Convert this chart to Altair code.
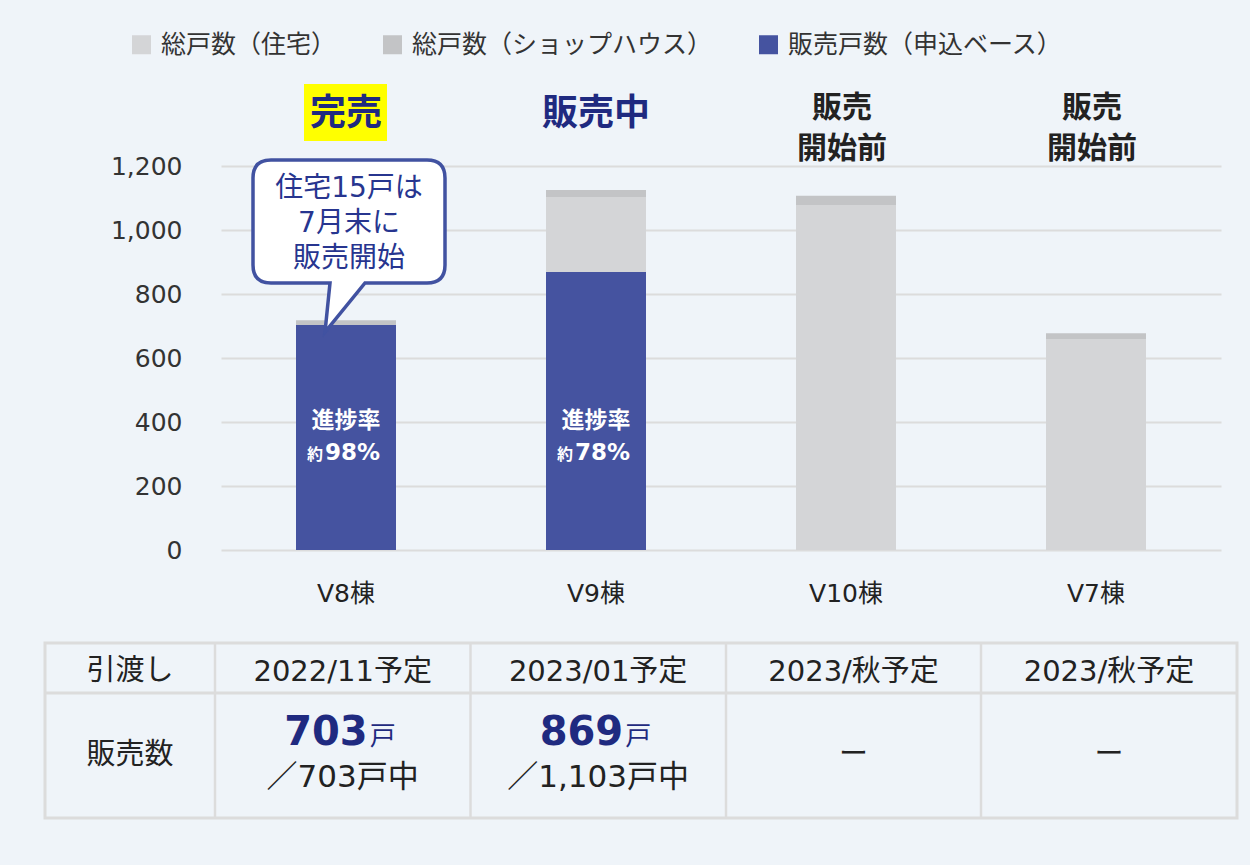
import altair as alt
import pandas as pd

# ---------------- data ----------------
BLDG = ["V8棟", "V9棟", "V10棟", "V7棟"]
HOUSING = [703, 1103, 1078, 659]          # 総戸数（住宅）
SHOP = [15, 22, 29, 18]                   # 総戸数（ショップハウス）
SOLD = [703, 869, None, None]             # 販売戸数（申込ベース）
SOLD_OF = [703, 1103, None, None]         # ／xxx戸中
PROGRESS = [98, 78, None, None]           # 進捗率 約xx%
STATUS = ["完売", "販売中", "販売\n開始前", "販売\n開始前"]
STATUS_KIND = ["hl", "hl", "pre", "pre"]
HANDOVER = ["2022/11予定", "2023/01予定", "2023/秋予定", "2023/秋予定"]
SERIES = ["総戸数（住宅）", "総戸数（ショップハウス）", "販売戸数（申込ベース）"]
COLORS = ["#d4d5d7", "#c3c4c6", "#4553a0"]
ROW_HEADS = ["引渡し", "販売数"]
NOTE = "住宅15戸は\n7月末に\n販売開始"

# ---------------- styling ----------------
LAT = "DejaVu Sans, Noto Sans CJK JP"
JP = "Noto Sans CJK JP"
NAVY = "#1f2a80"
DARK = "#222222"
GRID = "#dcdcdc"

stack_rows = []
for b, h, s in zip(BLDG, HOUSING, SHOP):
    stack_rows.append({"bldg": b, "series": SERIES[0], "value": h, "ord": 0})
    stack_rows.append({"bldg": b, "series": SERIES[1], "value": s, "ord": 1})
stack_df = pd.DataFrame(stack_rows)

sold_df = pd.DataFrame(
    [{"bldg": b, "series": SERIES[2], "value": v} for b, v in zip(BLDG, SOLD) if v is not None]
)

info = pd.DataFrame({
    "bldg": BLDG,
    "status": STATUS,
    "kind": STATUS_KIND,
    "handover": HANDOVER,
    "pct": [f"{p}%" if p is not None else "" for p in PROGRESS],
    "has": [v is not None for v in SOLD],
    "sold": [f"{v}" if v is not None else "" for v in SOLD],
    "of": [f"／{v:,}戸中" if v is not None else "" for v in SOLD_OF],
})

color_scale = alt.Scale(domain=SERIES, range=COLORS)
legend = alt.Legend(
    orient="none", legendX=-92, legendY=-134, direction="horizontal", title=None,
    symbolType="square", symbolSize=361, symbolStrokeWidth=0, symbolOpacity=1,
    labelFont=JP, labelFontSize=25, labelColor="#333333", labelOffset=7,
    columnPadding=43, labelLimit=600, padding=0,
)

x_band = alt.X(
    "bldg:N", sort=BLDG,
    scale=alt.Scale(domain=BLDG, paddingInner=0.6, paddingOuter=0.3),
    axis=alt.Axis(title=None, domain=False, ticks=False, tickSize=0, grid=False,
                  labelPadding=31, labelFont=LAT, labelFontSize=25,
                  labelColor=DARK, labelAngle=0),
)
y_axis = alt.Axis(title=None, domain=False, ticks=False, tickSize=0,
                  values=[0, 200, 400, 600, 800, 1000, 1200], format=",d",
                  labelPadding=39, labelFont=LAT, labelFontSize=25,
                  labelColor="#333333", gridColor=GRID, gridWidth=2)
y_scale = alt.Scale(domain=[0, 1200], nice=False)

stacked = alt.Chart(stack_df).mark_bar().encode(
    x=x_band,
    y=alt.Y("value:Q", stack="zero", scale=y_scale, axis=y_axis),
    color=alt.Color("series:N", scale=color_scale, legend=legend),
    order=alt.Order("ord:Q", sort="ascending"),
)
sold = alt.Chart(sold_df).mark_bar().encode(
    x=x_band,
    y=alt.Y("value:Q", stack=None, scale=y_scale, axis=y_axis),
    color=alt.Color("series:N", scale=color_scale, legend=legend),
)

# status labels above bars
yellow = alt.Chart(info).transform_filter(alt.datum.status == "完売").mark_rect(
    color="#ffff00").encode(
    x=alt.value(83), x2=alt.value(166), y=alt.value(-82), y2=alt.value(-25))
status_hl = alt.Chart(info).transform_filter(alt.datum.kind == "hl").mark_text(
    font=JP, fontSize=36, fontWeight="bold", color=NAVY, baseline="middle"
).encode(x=x_band, y=alt.value(-52), text="status:N")
status_pre = alt.Chart(info).transform_filter(alt.datum.kind == "pre").mark_text(
    font=JP, fontSize=30, fontWeight="bold", color=DARK, baseline="alphabetic",
    lineBreak="\n", lineHeight=41, dx=-4
).encode(x=x_band, y=alt.value(-49), text="status:N")

# in-bar progress text
prog_base = alt.Chart(info).transform_filter(alt.datum.has)
prog_t1 = prog_base.mark_text(font=JP, fontSize=23, fontWeight="bold", color="white",
                              baseline="middle", text="進捗率").encode(
    x=x_band, y=alt.value(255))
prog_t2 = prog_base.mark_text(font=JP, fontSize=16, fontWeight="bold", color="white",
                              baseline="middle", align="right", dx=-23, text="約").encode(
    x=x_band, y=alt.value(289))
prog_t3 = prog_base.mark_text(font=LAT, fontSize=23, fontWeight="bold", color="white",
                              baseline="middle", align="left", dx=-21).encode(
    x=x_band, y=alt.value(287), text="pct:N")

# callout bubble
BUBBLE_PATH = ("M -0.78 -0.86 L 0.78 -0.86 Q 0.96 -0.86 0.96 -0.68 L 0.96 0.19 "
               "Q 0.96 0.37 0.78 0.37 L 0.16 0.37 L -0.24 0.86 L -0.19 0.37 "
               "L -0.78 0.37 Q -0.96 0.37 -0.96 0.19 L -0.96 -0.68 "
               "Q -0.96 -0.86 -0.78 -0.86 Z")
note_df = pd.DataFrame({"note": [NOTE]})
bubble = alt.Chart(note_df).mark_point(
    shape=BUBBLE_PATH, size=40000, filled=True, fill="white", fillOpacity=1,
    stroke="#4152a1", strokeWidth=3.5, opacity=1
).encode(x=alt.value(128), y=alt.value(80))
bubble_text = alt.Chart(note_df).mark_text(
    font=LAT, fontSize=28, color="#27358f", baseline="alphabetic",
    lineBreak="\n", lineHeight=35
).encode(x=alt.value(128), y=alt.value(31), text="note:N")

inner = alt.layer(stacked, sold, yellow, status_hl, status_pre,
                  prog_t1, prog_t2, prog_t3, bubble, bubble_text)

# ---------------- table ----------------
x_pt = alt.X("bldg:N", sort=BLDG,
             scale=alt.Scale(type="point", domain=BLDG, range=[121.7, 888.0], padding=0),
             axis=None)
T_LEFT, T_RIGHT, T_TOP, T_MID, T_BOT = -176, 1016, 477, 527, 652
V_LINES = [-6, 249.5, 505, 760]
line_src = pd.DataFrame({"k": [0]})
table_border = alt.Chart(line_src).mark_rect(
    fillOpacity=0, stroke=GRID, strokeWidth=3).encode(
    x=alt.value(T_LEFT), x2=alt.value(T_RIGHT), y=alt.value(T_TOP), y2=alt.value(T_BOT))
rules = [alt.Chart(line_src).mark_rule(color=GRID, strokeWidth=3).encode(
    x=alt.value(T_LEFT), x2=alt.value(T_RIGHT), y=alt.value(T_MID))]
for vx in V_LINES:
    rules.append(alt.Chart(line_src).mark_rule(color=GRID, strokeWidth=2.5).encode(
        x=alt.value(vx), y=alt.value(T_TOP), y2=alt.value(T_BOT)))

heads_df = pd.DataFrame({"head": ROW_HEADS})
head1 = alt.Chart(heads_df).transform_filter(alt.datum.head == ROW_HEADS[0]).mark_text(
    font=JP, fontSize=29, color=DARK, baseline="middle").encode(
    x=alt.value(-91), y=alt.value(505), text="head:N")
head2 = alt.Chart(heads_df).transform_filter(alt.datum.head == ROW_HEADS[1]).mark_text(
    font=JP, fontSize=29, color=DARK, baseline="middle").encode(
    x=alt.value(-91), y=alt.value(589), text="head:N")

hand = alt.Chart(info).mark_text(font=LAT, fontSize=29, color=DARK, baseline="middle").encode(
    x=x_pt, y=alt.value(506), text="handover:N")
sold_base = alt.Chart(info).transform_filter(alt.datum.has)
sold_num = sold_base.mark_text(font=LAT, fontSize=40, fontWeight="bold", color=NAVY,
                               baseline="alphabetic", align="right", dx=25).encode(
    x=x_pt, y=alt.value(579), text="sold:N")
sold_unit = sold_base.mark_text(font=JP, fontSize=26, color=NAVY, baseline="alphabetic",
                                align="left", dx=27, text="戸").encode(
    x=x_pt, y=alt.value(579))
sold_of = sold_base.mark_text(font=LAT, fontSize=31, color=DARK, baseline="middle").encode(
    x=x_pt, y=alt.value(612), text="of:N")
dash = alt.Chart(info).transform_filter(~alt.datum.has).mark_text(
    font=JP, fontSize=29, color=DARK, baseline="middle", text="ー").encode(
    x=x_pt, y=alt.value(589))

table = alt.layer(table_border, *rules, head1, head2, hand, sold_num, sold_unit, sold_of, dash)

chart = alt.layer(inner, table).resolve_scale(x="independent").properties(
    width=1000, height=384,
    padding={"left": 221, "top": 166, "right": 29, "bottom": 315},
    autosize=alt.AutoSizeParams(type="none"),
).configure(background="#eff4f9").configure_view(stroke=None)

chart.save("out.html", embed_options={"renderer": "svg", "actions": False})
